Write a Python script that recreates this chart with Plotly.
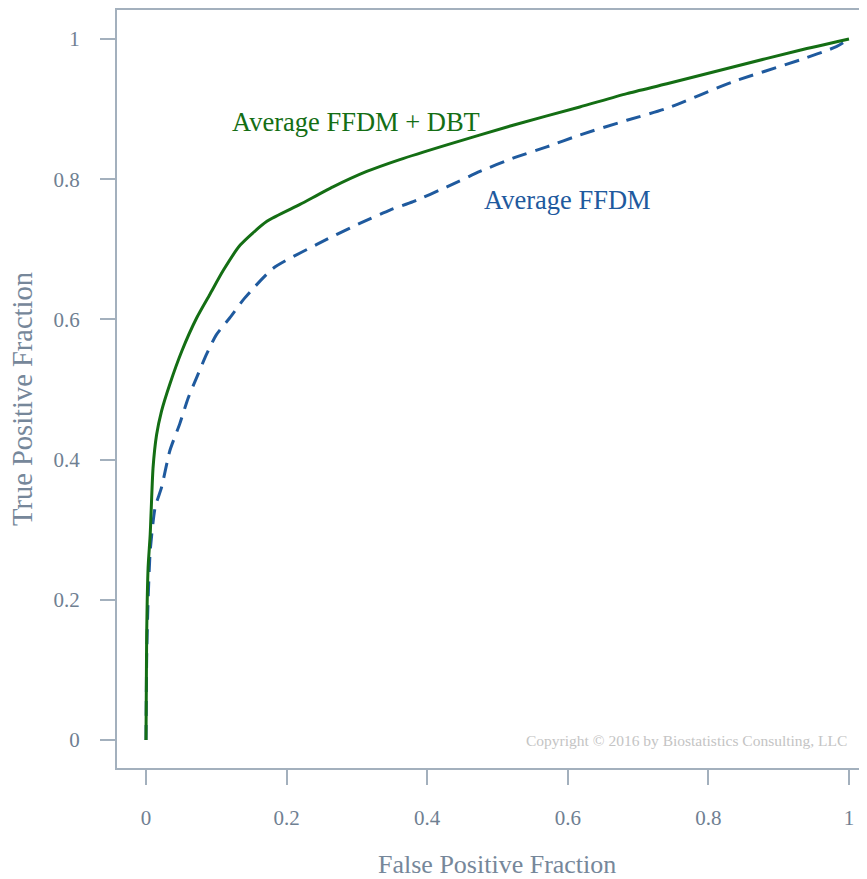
import plotly.graph_objects as go

# FFDM + DBT (solid green)
fpf_dbt = [0.0, 0.0005, 0.001, 0.003, 0.006, 0.010, 0.015, 0.022, 0.034, 0.051, 0.072,
           0.091, 0.110, 0.134, 0.172, 0.219, 0.266, 0.314, 0.361, 0.428, 0.522, 0.617,
           0.684, 0.741, 0.835, 0.930, 1.0]
tpf_dbt = [0.0, 0.08, 0.152, 0.246, 0.294, 0.388, 0.435, 0.469, 0.508, 0.555, 0.602,
           0.636, 0.670, 0.706, 0.740, 0.764, 0.789, 0.811, 0.828, 0.849, 0.877, 0.903,
           0.922, 0.936, 0.960, 0.984, 1.0]

# FFDM (dashed blue)
fpf_ffdm = [0.0, 0.001, 0.003, 0.006, 0.013, 0.022, 0.034, 0.048, 0.060, 0.072, 0.086,
            0.100, 0.119, 0.140, 0.181, 0.243, 0.304, 0.347, 0.380, 0.428, 0.475, 0.522,
            0.570, 0.617, 0.684, 0.741, 0.835, 0.930, 0.982, 1.0]
tpf_ffdm = [0.0, 0.12, 0.20, 0.27, 0.332, 0.360, 0.413, 0.451, 0.488, 0.517, 0.550,
            0.578, 0.602, 0.630, 0.673, 0.707, 0.737, 0.756, 0.768, 0.789, 0.811, 0.830,
            0.846, 0.863, 0.884, 0.901, 0.939, 0.970, 0.989, 1.0]

tick_vals = [0, 0.2, 0.4, 0.6, 0.8, 1]
tick_text = ["0", "0.2", "0.4", "0.6", "0.8", "1"]

FONT = "Liberation Serif, Times New Roman, serif"
AXIS_LINE = "#a3b0bd"
TICK_COL = "#6f8092"
TITLE_COL = "#76879a"
GREEN = "#146e14"
BLUE = "#1f5a9e"

# page body has an 8px margin: figure drawn at (8, 8)
OFF = 8
W, H = 867 - OFF, 879 - OFF
L, T = 117 - OFF, 8 - OFF
PW, PH = 750, 760

fig = go.Figure()
fig.add_trace(go.Scatter(x=fpf_ffdm, y=tpf_ffdm, mode="lines",
                         line=dict(color=BLUE, width=3, dash="15px,9px",
                                   shape="spline", smoothing=0.6),
                         showlegend=False, hoverinfo="skip"))
fig.add_trace(go.Scatter(x=fpf_dbt, y=tpf_dbt, mode="lines",
                         line=dict(color=GREEN, width=3, shape="spline", smoothing=0.6),
                         showlegend=False, hoverinfo="skip"))

fig.add_annotation(x=0.299, y=0.882, text="Average FFDM + DBT", showarrow=False,
                   font=dict(family=FONT, size=26.5, color=GREEN),
                   xanchor="center", yanchor="middle")
fig.add_annotation(x=0.599, y=0.770, text="Average FFDM", showarrow=False,
                   font=dict(family=FONT, size=26.5, color=BLUE),
                   xanchor="center", yanchor="middle")
fig.add_annotation(x=1.0, y=0.0, text="Copyright © 2016 by Biostatistics Consulting, LLC",
                   showarrow=False, font=dict(family=FONT, size=15.5, color="#c4c4c4"),
                   xanchor="right", yanchor="middle")

fig.add_annotation(xref="paper", yref="paper", x=(497 - 117) / PW, y=(768 - 865) / PH,
                   text="False Positive Fraction", showarrow=False,
                   font=dict(family=FONT, size=26, color=TITLE_COL),
                   xanchor="center", yanchor="middle")
fig.add_annotation(xref="paper", yref="paper", x=(23 - 117) / PW, y=(768 - 398) / PH,
                   text="True Positive Fraction", showarrow=False, textangle=-90,
                   font=dict(family=FONT, size=28.5, color=TITLE_COL),
                   xanchor="center", yanchor="middle")

fig.update_layout(
    width=W, height=H,
    margin=dict(l=L, r=W - L - PW, t=T, b=H - T - PH),
    paper_bgcolor="white", plot_bgcolor="white",
    font=dict(family=FONT),
    xaxis=dict(range=[-0.04125, 1.0256], tickvals=tick_vals, ticktext=tick_text,
               showgrid=False, zeroline=False, showline=True, mirror=True,
               linecolor=AXIS_LINE, linewidth=2, ticks="outside", ticklen=15,
               tickwidth=2, tickcolor=AXIS_LINE, ticklabelstandoff=15,
               tickfont=dict(family=FONT, size=21, color=TICK_COL)),
    yaxis=dict(range=[-0.0398, 1.0413], tickvals=tick_vals, ticktext=tick_text,
               showgrid=False, zeroline=False, showline=True, mirror=False,
               linecolor=AXIS_LINE, linewidth=2, ticks="outside", ticklen=15,
               tickwidth=2, tickcolor=AXIS_LINE, ticklabelstandoff=16,
               tickfont=dict(family=FONT, size=21, color=TICK_COL)),
)

fig.write_html("out.html")
